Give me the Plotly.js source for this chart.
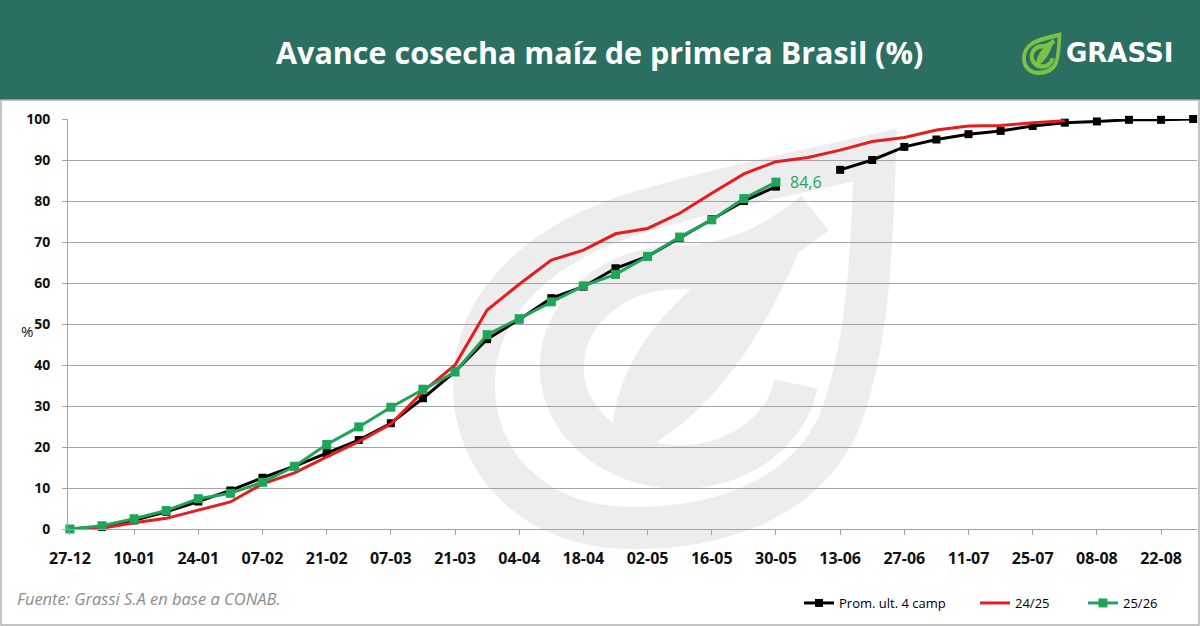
<!DOCTYPE html>
<html>
<head>
<meta charset="utf-8">
<script src="https://cdn.plot.ly/plotly-3.0.1.min.js"></script>
<style>html,body{margin:0;padding:0;background:#fff;}#chart{width:1200px;height:626px;}</style>
</head>
<body>
<div id="chart"></div>
<script>
// ---- data ----
var categories = ["27-12","03-01","10-01","17-01","24-01","31-01","07-02","14-02","21-02","28-02",
  "07-03","14-03","21-03","28-03","04-04","11-04","18-04","25-04","02-05","09-05","16-05","23-05",
  "30-05","06-06","13-06","20-06","27-06","04-07","11-07","18-07","25-07","01-08","08-08","15-08",
  "22-08","29-08"];
var tickLabels = ["27-12","10-01","24-01","07-02","21-02","07-03","21-03","04-04","18-04","02-05",
  "16-05","30-05","13-06","27-06","11-07","25-07","08-08","22-08"];
var promUlt4 = [0, 0.5, 2.1, 4.2, 6.7, 9.4, 12.5, 15.3, 18.5, 21.7, 25.8, 31.9, 38.4, 46.3, 51.1,
  56.3, 59.1, 63.6, 66.5, 71.0, 75.6, 80.0, 83.5, null, 87.6, 90.0, 93.2, 95.0, 96.3, 97.1, 98.3,
  99.1, 99.4, 99.8, 99.8, 100];
var camp2425 = [0, 0.2, 1.5, 2.6, 4.6, 6.6, 11.0, 13.7, 17.6, 21.3, 25.6, 33.5, 40.0, 53.4, 59.7,
  65.6, 68.0, 72.0, 73.3, 77.0, 81.9, 86.6, 89.6, 90.6, 92.4, 94.5, 95.5, 97.3, 98.3, 98.4, 99.1, 99.6];
var camp2526 = [0, 0.8, 2.5, 4.5, 7.4, 8.7, 11.4, 15.3, 20.6, 24.9, 29.7, 34.1, 38.3, 47.4, 51.3,
  55.4, 59.3, 62.1, 66.5, 71.2, 75.4, 80.6, 84.6];
var seriesNames = ["Prom. ult. 4 camp", "24/25", "25/26"];
var lastLabel = "84,6";

// ---- geometry helpers (pixel -> paper) ----
var L = 68, T = 119, W = 1129, H = 410;
function px(x){ return (x - L) / W; }
function py(y){ return (T + H - y) / H; }

var green = "#1ea55a", red = "#e81c1f", grey = "#a3a3a3";

// logo drawing (in watermark pixel space)
var logoParts =
  '<path d="M 875 155 C 872 250, 868 350, 838 425 C 800 505, 710 529, 630 528 C 535 527, 474 465, 474 385 C 474 300, 545 240, 640 212 C 730 185, 810 170, 875 155 Z" fill="none" stroke-width="42" stroke-linejoin="miter" stroke-miterlimit="10"/>' +
  '<path d="M 796 384 A 118 100 0 1 1 680 267 C 735 267, 775 245, 815 213" fill="none" stroke-width="44"/>' +
  '<path d="M 612 440 C 612 345, 700 262, 815 213 C 780 300, 735 400, 640 452 Z" stroke="none"/>';

var wmSvg = '<svg xmlns="http://www.w3.org/2000/svg" width="1200" height="626" viewBox="0 0 1200 626">' +
  '<g fill="#ededed" stroke="#ededed">' + logoParts + '</g></svg>';
var iconSvg = '<svg xmlns="http://www.w3.org/2000/svg" width="1200" height="626" viewBox="0 0 1200 626">' +
  '<g transform="translate(1022,32) scale(0.0886,0.102) translate(-452,-128)" fill="#7cc242" stroke="#7cc242">' + logoParts + '</g></svg>';
function uri(s){ return 'data:image/svg+xml;charset=utf-8,' + encodeURIComponent(s); }

var traces = [
  {x: categories, y: promUlt4, name: seriesNames[0], type: "scatter", mode: "lines+markers", legend: "legend",
   line: {color: "#000000", width: 3}, marker: {symbol: "square", size: 8, color: "#000000"},
   connectgaps: false, cliponaxis: false},
  {x: categories.slice(0, camp2425.length), y: camp2425, name: seriesNames[1], type: "scatter", mode: "lines",
   legend: "legend2", line: {color: red, width: 3}, cliponaxis: false},
  {x: categories.slice(0, camp2526.length), y: camp2526, name: seriesNames[2], type: "scatter", mode: "lines+markers",
   legend: "legend3", line: {color: green, width: 3}, marker: {symbol: "square", size: 9, color: green}, cliponaxis: false}
];

var tickFont = {family: "Open Sans", color: "#111", weight: "bold"};
function leg(xpix){
  return {orientation: "h", x: px(xpix), y: py(603), xanchor: "left", yanchor: "middle",
    font: {family: "Open Sans", size: 13, color: "#000"}, bgcolor: "rgba(0,0,0,0)"};
}

var layout = {
  width: 1200, height: 626,
  margin: {l: L, r: 1200 - L - W, t: T, b: 626 - T - H, pad: 0},
  paper_bgcolor: "#ffffff", plot_bgcolor: "rgba(0,0,0,0)",
  showlegend: true,
  legend: leg(799), legend2: leg(975), legend3: leg(1083),
  xaxis: {type: "category", range: [-0.06, 35.12], tickmode: "array", tickvals: tickLabels, ticktext: tickLabels,
    showgrid: false, zeroline: false, showline: true, linecolor: grey, linewidth: 1,
    ticks: "outside", ticklen: 5, tickcolor: grey, ticklabelstandoff: 10,
    tickfont: Object.assign({size: 16}, tickFont)},
  yaxis: {range: [0, 100], tickvals: [0,10,20,30,40,50,60,70,80,90,100], showgrid: true, gridcolor: grey, gridwidth: 1,
    zeroline: false, showline: true, linecolor: grey, linewidth: 1, ticks: "outside", ticklen: 5, tickcolor: grey,
    ticklabelstandoff: 9, tickfont: Object.assign({size: 14}, tickFont)},
  shapes: [
    {type: "rect", xref: "paper", yref: "paper", x0: px(0), x1: px(1200), y0: py(100), y1: py(0),
     fillcolor: "#2b6f63", line: {width: 0}, layer: "below"},
    {type: "rect", xref: "paper", yref: "paper", x0: px(1), x1: px(1199), y0: py(625), y1: py(100),
     fillcolor: "rgba(0,0,0,0)", line: {color: "#b0b0b0", width: 1.5}, layer: "below"}
  ],
  images: [
    {source: uri(wmSvg), xref: "paper", yref: "paper", x: px(0), y: py(0), sizex: 1200 / W, sizey: 626 / H,
     xanchor: "left", yanchor: "top", sizing: "stretch", layer: "below"},
    {source: uri(iconSvg), xref: "paper", yref: "paper", x: px(0), y: py(0), sizex: 1200 / W, sizey: 626 / H,
     xanchor: "left", yanchor: "top", sizing: "stretch", layer: "above"}
  ],
  annotations: [
    {text: "Avance cosecha maíz de primera Brasil (%)", xref: "paper", yref: "paper", x: px(599), y: py(52),
     xanchor: "center", yanchor: "middle", showarrow: false,
     font: {family: "Open Sans", size: 30.5, color: "#ffffff", weight: "bold"}},
    {text: "GRASSI", xref: "paper", yref: "paper", x: px(1064), y: py(53), xanchor: "left", yanchor: "middle",
     showarrow: false, font: {family: "DejaVu Sans", size: 26, color: "#ffffff", weight: "bold"}},
    {text: "%", xref: "paper", yref: "paper", x: px(27), y: py(331), xanchor: "center", yanchor: "middle",
     showarrow: false, font: {family: "Open Sans", size: 15, color: "#111"}},
    {text: "Fuente: Grassi S.A en base a CONAB.", xref: "paper", yref: "paper", x: px(15), y: py(598),
     xanchor: "left", yanchor: "middle", showarrow: false,
     font: {family: "Open Sans", size: 16.5, color: "#8c8c8c", style: "italic"}},
    {text: lastLabel, xref: "x", yref: "y", x: categories[camp2526.length - 1], y: camp2526[camp2526.length - 1],
     xanchor: "left", yanchor: "middle", xshift: 12, showarrow: false,
     font: {family: "Open Sans", size: 16, color: green}}
  ]
};

Plotly.newPlot("chart", traces, layout, {displayModeBar: false, staticPlot: true});
</script>
</body>
</html>
